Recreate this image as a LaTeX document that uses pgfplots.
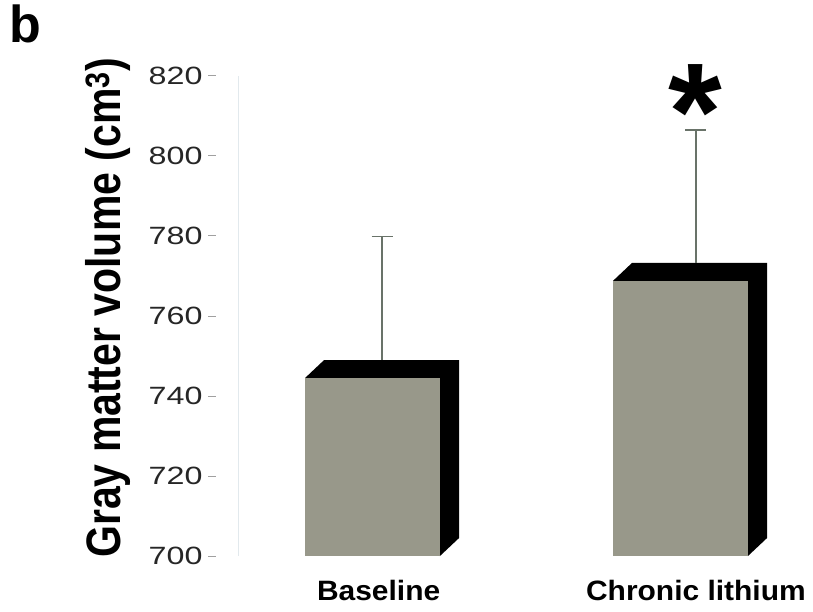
\documentclass[border=0pt]{standalone}
\usepackage{fontspec}
\setmainfont{Liberation Sans}
\newfontfamily\tickfont[FakeStretch=1.29]{Liberation Sans}
\newfontfamily\catfont[FakeStretch=1.07]{Liberation Sans}
\usepackage{graphicx}
\usepackage{pgfplots}
\pgfplotsset{compat=1.18}
\definecolor{barfill}{RGB}{152,152,138}
\definecolor{errcol}{RGB}{105,115,105}
\definecolor{tickgray}{RGB}{160,160,160}
\definecolor{axisfaint}{RGB}{226,233,237}
\begin{document}
\begin{tikzpicture}
\useasboundingbox (0pt,0pt) rectangle (813pt,611pt);
\node[anchor=base west, inner sep=0pt, font=\fontsize{52}{52}\selectfont\bfseries] at (9pt,568pt) {b};
\begin{axis}[
  at={(238pt,55pt)}, anchor=south west,
  scale only axis, width=552pt, height=480pt,
  xmin=-0.4367, xmax=1.3555, ymin=700, ymax=820,
  clip=false,
  axis x line*=bottom, axis y line*=left,
  x axis line style={draw=none},
  y axis line style={draw=axisfaint, line width=0.8pt},
  ytick={700,720,...,820},
  tick align=outside, major tick length=8pt,
  ytick style={draw=tickgray, line width=1pt, xshift=-22pt},
  yticklabel style={font=\tickfont\fontsize{25}{25}\selectfont, text=black!85, xshift=-24pt},
  /pgf/number format/assume math mode=true,
  xtick={0.02,1.05}, xticklabels={Baseline, Chronic lithium},
  xtick style={draw=none},
  xticklabel style={font=\catfont\bfseries\fontsize{28}{28}\selectfont, yshift=-13pt},
  ylabel={\scalebox{1}[1.18]{Gray matter volume (cm\textsuperscript{3})}},
  every axis y label/.style={at={(rel axis cs:-0.2355,0.5167)}, anchor=center, rotate=90, font=\bfseries\fontsize{41}{41}\selectfont},
]
% 3D black faces (top and right side)
\addplot[fill=black, draw=none, mark=none] coordinates {(-0.219,744.5) (-0.157,749) (0.281,749) (0.281,704.5) (0.219,700) (0.219,744.5)};
\addplot[fill=black, draw=none, mark=none] coordinates {(0.781,768.8) (0.843,773.3) (1.281,773.3) (1.281,704.5) (1.219,700) (1.219,768.8)};
% front faces
\addplot[fill=barfill, draw=none, mark=none] coordinates {(-0.219,700) (-0.219,744.5) (0.219,744.5) (0.219,700)};
\addplot[fill=barfill, draw=none, mark=none] coordinates {(0.781,700) (0.781,768.8) (1.219,768.8) (1.219,700)};
% error bars
\addplot[draw=none, mark=none,
  error bars/.cd, y dir=plus, y explicit,
  error bar style={draw=errcol, line width=1.3pt},
  error mark options={rotate=90, draw=errcol, line width=1.3pt, mark size=10.5pt}]
  coordinates {(0.031,749) +- (0,30.8) (1.050,773.3) +- (0,33.2)};
\node[font=\fontsize{138}{138}\selectfont\bfseries, anchor=base, inner sep=0pt] at (axis cs:1.047,799) {*};
\end{axis}
\end{tikzpicture}
\end{document}
